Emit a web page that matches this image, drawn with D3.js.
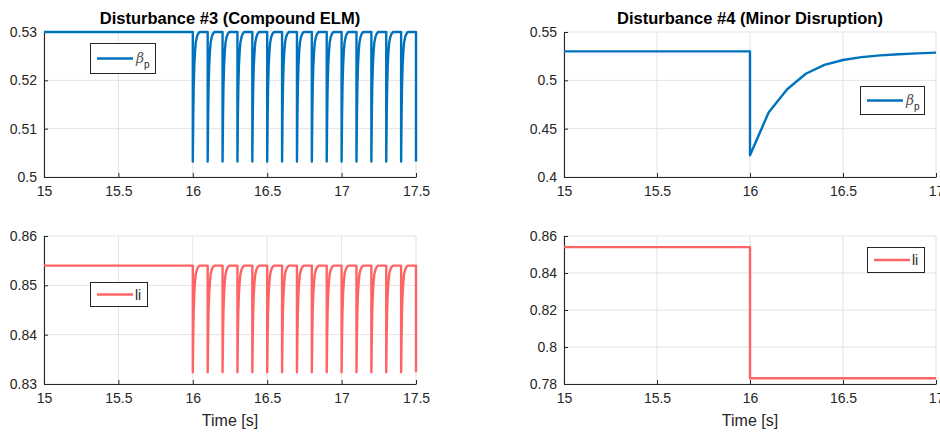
<!DOCTYPE html>
<html><head><meta charset="utf-8">
<script src="https://cdn.jsdelivr.net/npm/d3@7"></script>
<style>
html,body{margin:0;padding:0;background:#fff;}
svg{display:block;font-family:"Liberation Sans",Arial,Helvetica,sans-serif;}
</style></head>
<body><svg id="c" width="940" height="434"></svg>
<script>
// ---------- data ----------
const titles = ["Disturbance #3 (Compound ELM)", "Disturbance #4 (Minor Disruption)"];
const xLabel = "Time [s]";
const xTicks3 = [15, 15.5, 16, 16.5, 17, 17.5];
const xTicks4 = [15, 15.5, 16, 16.5, 17];
const yTicksBeta3 = [0.5, 0.51, 0.52, 0.53];
const yTicksLi3 = [0.83, 0.84, 0.85, 0.86];
const yTicksBeta4 = [0.4, 0.45, 0.5, 0.55];
const yTicksLi4 = [0.78, 0.8, 0.82, 0.84, 0.86];

// Disturbance #3: repeated ELM crashes every 0.1 s
const elmTimes = [16.0, 16.1, 16.2, 16.3, 16.4, 16.5, 16.6, 16.7, 16.8, 16.9, 17.0, 17.1, 17.2, 17.3, 17.4, 17.5];
const betaPre3 = 0.53, betaCrash3 = 0.5032;
const liPre3 = 0.854, liCrash3 = 0.8324;
// recovery shape after each crash (time after crash, fraction recovered)
const elmDt = [0, 0.003, 0.006, 0.010, 0.015, 0.020, 0.027, 0.035, 0.045];
const elmFrac = [0, 0.35, 0.58, 0.74, 0.85, 0.92, 0.96, 0.985, 1.0];

// Disturbance #4: single drop with recovery (beta_p), step down (li)
const d4BetaTime = [15, 16, 16, 16.1, 16.2, 16.3, 16.4, 16.5, 16.6, 16.7, 16.8, 16.9, 17.0];
const d4BetaValue = [0.53, 0.53, 0.4224, 0.4667, 0.4908, 0.5068, 0.516, 0.521, 0.524, 0.5258, 0.527, 0.5279, 0.5287];
const d4LiTime = [15, 16, 16, 17];
const d4LiValue = [0.854, 0.854, 0.7831, 0.7831];

// ---------- build series ----------
function elmSeries(pre, crash, tEnd) {
  const pts = [[15, pre]];
  elmTimes.forEach(t => {
    pts.push([t, pre]);
    pts.push([t, crash]);
    if (t < tEnd) {
      elmDt.forEach((dt, i) => { if (i > 0) pts.push([t + dt, crash + elmFrac[i] * (pre - crash)]); });
    }
  });
  return pts;
}
const beta3 = elmSeries(betaPre3, betaCrash3, 17.5);
const li3 = elmSeries(liPre3, liCrash3, 17.5);
const beta4 = d4BetaTime.map((t, i) => [t, d4BetaValue[i]]);
const li4 = d4LiTime.map((t, i) => [t, d4LiValue[i]]);

const BLUE = "#0072BD", RED = "#FF6464";
const AX = "#262626";

const panels = [
  {l:44, r:416, t:32, b:177, xd:[15,17.5], yd:[0.5,0.53], xt:xTicks3, yt:yTicksBeta3, data:beta3, color:BLUE,
   title:titles[0], leg:{x:90, y:43, w:65, h:30, name:"beta"}},
  {l:564, r:936, t:32, b:177, xd:[15,17], yd:[0.4,0.55], xt:xTicks4, yt:yTicksBeta4, data:beta4, color:BLUE,
   title:titles[1], leg:{x:860, y:86, w:64, h:28, name:"beta"}},
  {l:44, r:416, t:236, b:384, xd:[15,17.5], yd:[0.83,0.86], xt:xTicks3, yt:yTicksLi3, data:li3, color:RED,
   xlabel:xLabel, leg:{x:90, y:282, w:57, h:24, name:"li"}},
  {l:564, r:936, t:236, b:384, xd:[15,17], yd:[0.78,0.86], xt:xTicks4, yt:yTicksLi4, data:li4, color:RED,
   xlabel:xLabel, leg:{x:867, y:247, w:57, h:25, name:"li"}}
];

const svg = d3.select("#c");
svg.append("rect").attr("width",940).attr("height",434).attr("fill","#fff");

const fmt = v => d3.format("~g")(v);

panels.forEach(p => {
  const x = d3.scaleLinear().domain(p.xd).range([p.l, p.r]);
  const y = d3.scaleLinear().domain(p.yd).range([p.b, p.t]);
  const g = svg.append("g");
  // grid
  g.selectAll(".gx").data(p.xt).enter().append("line")
    .attr("x1", d => x(d)).attr("x2", d => x(d)).attr("y1", p.t).attr("y2", p.b)
    .attr("stroke", "#e3e3e3").attr("stroke-width", 1);
  g.selectAll(".gy").data(p.yt).enter().append("line")
    .attr("x1", p.l).attr("x2", p.r).attr("y1", d => y(d)).attr("y2", d => y(d))
    .attr("stroke", "#e3e3e3").attr("stroke-width", 1);

  // axes
  const xa = g.append("g").attr("transform", `translate(0,${p.b})`)
    .call(d3.axisBottom(x).tickValues(p.xt).tickFormat(fmt).tickSizeInner(-4).tickSizeOuter(0).tickPadding(9));
  const ya = g.append("g").attr("transform", `translate(${p.l},0)`)
    .call(d3.axisLeft(y).tickValues(p.yt).tickFormat(fmt).tickSizeInner(-4).tickSizeOuter(0).tickPadding(7));
  [xa, ya].forEach(a => {
    a.select(".domain").attr("stroke", AX).attr("stroke-width", 1.1);
    a.selectAll(".tick line").attr("stroke", AX).attr("stroke-width", 1);
    a.selectAll(".tick text").attr("fill", AX).style("font-size", "14px")
     .style("font-family", '"Liberation Sans", Arial, sans-serif');
  });

  // data line
  g.append("path").datum(p.data)
    .attr("d", d3.line().x(d => x(d[0])).y(d => y(d[1])))
    .attr("fill", "none").attr("stroke", p.color).attr("stroke-width", 2.4)
    .attr("stroke-linejoin", "round");

  // title
  if (p.title) {
    svg.append("text").attr("x", (p.l + p.r) / 2).attr("y", 24).attr("text-anchor", "middle")
      .style("font-size", "16.5px").style("font-weight", "bold").attr("fill", "#000").text(p.title);
  }
  if (p.xlabel) {
    svg.append("text").attr("x", (p.l + p.r) / 2).attr("y", 426).attr("text-anchor", "middle")
      .style("font-size", "16px").attr("fill", AX).text(p.xlabel);
  }

  // legend
  const L = p.leg;
  const lg = svg.append("g");
  lg.append("rect").attr("x", L.x + 0.5).attr("y", L.y + 0.5).attr("width", L.w).attr("height", L.h)
    .attr("fill", "#fff").attr("stroke", AX).attr("stroke-width", 1);
  const cy = L.y + L.h / 2 + 0.5;
  lg.append("line").attr("x1", L.x + 7).attr("x2", L.x + 43).attr("y1", cy).attr("y2", cy)
    .attr("stroke", p.color).attr("stroke-width", 2.4);
  if (L.name === "beta") {
    const t = lg.append("text").attr("x", L.x + 46).attr("y", cy + 4).attr("fill", "#555")
      .style("font-size", "14px");
    t.append("tspan").style("font-style", "italic").style("font-family", '"DejaVu Serif", serif').text("β");
    t.append("tspan").attr("dy", 5).attr("fill", AX).style("font-size", "10px").text("p");
  } else {
    lg.append("text").attr("x", L.x + 45).attr("y", cy + 5).attr("fill", AX)
      .style("font-size", "14px").text("li");
  }
});
</script></body></html>
